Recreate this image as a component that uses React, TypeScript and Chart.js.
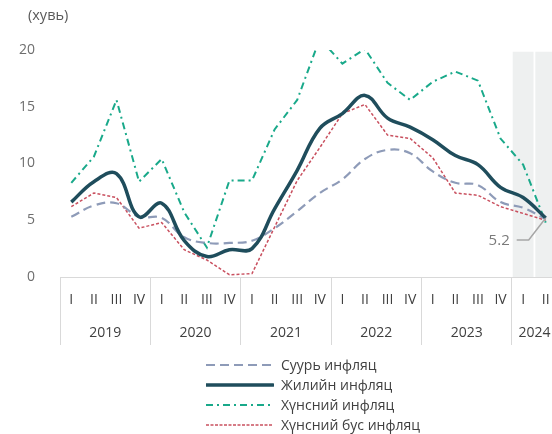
import React, { useEffect, useRef } from "react";
import { Chart, registerables } from "chart.js";

Chart.register(...registerables);

const FONT = "'Open Sans', 'Noto Sans', sans-serif";

// Quarter tick labels (2019 Q1 … 2024 Q2)
const QUARTERS = [
  "I", "II", "III", "IV",
  "I", "II", "III", "IV",
  "I", "II", "III", "IV",
  "I", "II", "III", "IV",
  "I", "II", "III", "IV",
  "I", "II",
];
const YEARS = ["2019", "2020", "2021", "2022", "2023", "2024"];
const QUARTERS_PER_YEAR = [4, 4, 4, 4, 4, 2];

// Series (%)
const CORE = [5.3, 6.3, 6.5, 5.3, 5.2, 3.5, 3.0, 3.0, 3.2, 4.3, 5.8, 7.4, 8.6, 10.4, 11.2, 10.9, 9.3, 8.3, 8.1, 6.6, 6.1, 5.1];
const HEADLINE = [6.6, 8.4, 9.1, 5.3, 6.5, 3.2, 1.8, 2.4, 2.5, 6.0, 9.4, 13.1, 14.4, 16.0, 14.0, 13.2, 12.1, 10.7, 9.9, 7.9, 7.0, 5.2];
const FOOD = [8.3, 10.6, 15.6, 8.4, 10.4, 5.7, 2.6, 8.5, 8.5, 13.0, 15.6, 21.0, 18.8, 20.1, 17.1, 15.6, 17.2, 18.1, 17.3, 12.2, 9.9, 4.8];
const NONFOOD = [6.2, 7.4, 7.0, 4.3, 4.8, 2.4, 1.5, 0.2, 0.3, 4.4, 8.5, 11.4, 14.4, 15.2, 12.5, 12.2, 10.5, 7.4, 7.2, 6.2, 5.6, 5.0];

// Shaded (latest) quarters
const SHADE_TOP = 19.85;
const SHADED_COUNT = 2;

const Y_TICKS = { min: 0, max: 20, step: 5 };

const SERIES_NAMES = ["Суурь инфляц", "Жилийн инфляц", "Хүнсний инфляц", "Хүнсний бус инфляц"];
const COLORS = { core: "#8e9bb8", headline: "#1f4d5c", food: "#19a98a", nonfood: "#c9505f", shade: "#eef0f0" };

function yearCenters(): number[] {
  const out: number[] = [];
  let start = 0;
  for (const n of QUARTERS_PER_YEAR) {
    out.push(start + n / 2 - 0.5);
    start += n;
  }
  return out;
}

export default function App() {
  const ref = useRef<HTMLCanvasElement>(null);

  useEffect(() => {
    document.body.style.margin = "0";
    const canvas = ref.current;
    if (!canvas) return;

    const shadeData = QUARTERS.map((_, i) => (i >= QUARTERS.length - SHADED_COUNT ? SHADE_TOP : null));
    const centers = yearCenters();

    const annot = {
      id: "lastLabel",
      afterDatasetsDraw(chart: any) {
        const xs = chart.scales.x;
        const ys = chart.scales.y;
        const i = HEADLINE.length - 1;
        const px = xs.getPixelForValue(i);
        const py = ys.getPixelForValue(HEADLINE[i]);
        const c = chart.ctx;
        c.save();
        c.strokeStyle = "#a6a6a6";
        c.lineWidth = 1.5;
        c.beginPath();
        c.moveTo(px, py);
        c.lineTo(px - 17, py + 22);
        c.lineTo(px - 29, py + 22);
        c.stroke();
        c.fillStyle = "#7a7a7a";
        c.font = `15px ${FONT}`;
        c.textAlign = "right";
        c.textBaseline = "middle";
        c.fillText(HEADLINE[i].toFixed(1), px - 36, py + 23);
        c.restore();
      },
    };

    const chart = new Chart(canvas, {
      type: "line",
      data: {
        labels: QUARTERS,
        datasets: [
          {
            type: "line",
            label: SERIES_NAMES[1],
            data: HEADLINE,
            borderColor: COLORS.headline,
            borderWidth: 3.5,
            tension: 0.4,
            pointRadius: 0,
            order: 0,
          },
          {
            type: "line",
            label: SERIES_NAMES[0],
            data: CORE,
            borderColor: COLORS.core,
            borderWidth: 2.2,
            borderDash: [9, 5],
            tension: 0.4,
            pointRadius: 0,
            order: 1,
          },
          {
            type: "line",
            label: SERIES_NAMES[2],
            data: FOOD,
            borderColor: COLORS.food,
            borderWidth: 2,
            borderDash: [7, 4, 2, 4],
            tension: 0,
            pointRadius: 0,
            order: 2,
          },
          {
            type: "line",
            label: SERIES_NAMES[3],
            data: NONFOOD,
            borderColor: COLORS.nonfood,
            borderWidth: 1.5,
            borderDash: [3, 2],
            tension: 0,
            pointRadius: 0,
            order: 3,
          },
          {
            type: "bar",
            label: "shade",
            data: shadeData as any,
            backgroundColor: COLORS.shade,
            barPercentage: 0.92,
            categoryPercentage: 1,
            order: 10,
          } as any,
        ],
      },
      options: {
        responsive: false,
        animation: false,
        layout: { padding: { left: 0, right: 3, top: 50, bottom: 69 } },
        plugins: { legend: { display: false }, tooltip: { enabled: false } },
        scales: {
          x: {
            type: "category",
            position: "bottom",
            offset: true,
            weight: 0,
            grid: {
              display: true,
              offset: true,
              drawOnChartArea: false,
              drawTicks: true,
              tickLength: 68,
              lineWidth: 1,
              color: (c: any) => (typeof c.index === "number" && c.index % 4 === 0 ? "#d9d9d9" : "rgba(0,0,0,0)"),
            },
            border: { display: true, color: "#d9d9d9", width: 1 },
            ticks: {
              autoSkip: false,
              maxRotation: 0,
              minRotation: 0,
              padding: -53,
              color: "#404040",
              font: { size: 14, family: FONT },
            },
            afterFit: (s: any) => {
              s.height = 38;
            },
          },
          xYear: {
            type: "linear",
            position: "bottom",
            weight: 1,
            min: -0.5,
            max: QUARTERS.length - 0.5,
            grid: { display: false },
            border: { display: false },
            afterBuildTicks: (s: any) => {
              s.ticks = centers.map((v) => ({ value: v }));
            },
            ticks: {
              autoSkip: false,
              maxRotation: 0,
              minRotation: 0,
              padding: 2,
              color: "#404040",
              font: { size: 14, family: FONT },
              callback: (_v: any, i: number) => YEARS[i],
            },
            afterFit: (s: any) => {
              s.height = 50;
            },
          },
          y: {
            min: Y_TICKS.min,
            max: Y_TICKS.max,
            ticks: { stepSize: Y_TICKS.step, padding: 17, color: "#6e6e6e", font: { size: 14, family: FONT } },
            grid: { display: false },
            border: { display: false },
            afterFit: (s: any) => {
              s.width = 60;
            },
          },
        },
      } as any,
      plugins: [annot],
    });

    return () => chart.destroy();
  }, []);

  const legendItems = [
    { name: SERIES_NAMES[0], color: COLORS.core, width: 2.2, dash: "9 5" },
    { name: SERIES_NAMES[1], color: COLORS.headline, width: 3.5, dash: "" },
    { name: SERIES_NAMES[2], color: COLORS.food, width: 2, dash: "7 4 2 4" },
    { name: SERIES_NAMES[3], color: COLORS.nonfood, width: 1.5, dash: "3 1.5" },
  ];

  return (
    <div style={{ position: "relative", width: 552, height: 434, overflow: "hidden", fontFamily: FONT }}>
      <canvas ref={ref} width={560} height={434} style={{ display: "block", width: 560, height: 434 }} />
      <div style={{ position: "absolute", left: 28, top: 5, fontSize: 14.5, color: "#595959", lineHeight: "20px" }}>
        (хувь)
      </div>
      <div style={{ position: "absolute", left: 206, top: 355 }}>
        {legendItems.map((it) => (
          <div key={it.name} style={{ display: "flex", alignItems: "center", height: 20 }}>
            <svg width={68} height={20} style={{ display: "block" }}>
              <line
                x1={0}
                y1={10}
                x2={67}
                y2={10}
                stroke={it.color}
                strokeWidth={it.width}
                strokeDasharray={it.dash || undefined}
                strokeLinecap={it.dash ? "butt" : "round"}
              />
            </svg>
            <span style={{ marginLeft: 7, fontSize: 14, color: "#404040", lineHeight: "20px", whiteSpace: "nowrap" }}>
              {it.name}
            </span>
          </div>
        ))}
      </div>
    </div>
  );
}
